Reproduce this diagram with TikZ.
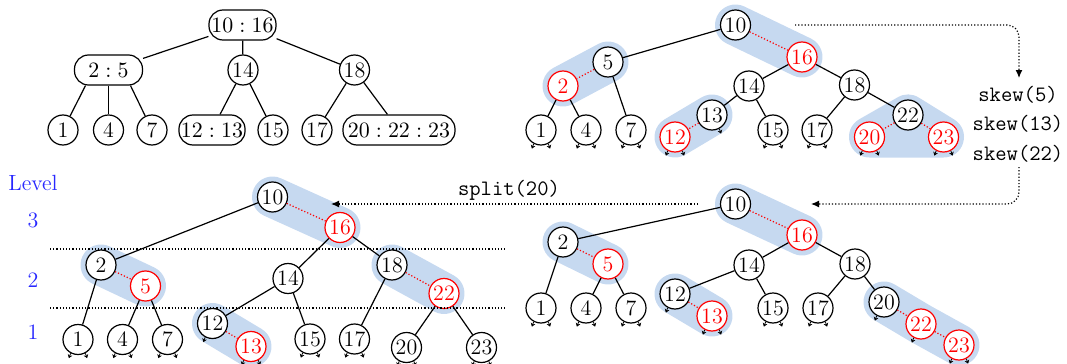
\documentclass[tikz,border=0pt]{standalone}
\usepackage{fontspec}
\usetikzlibrary{arrows.meta,backgrounds,calc}
\definecolor{hlblue}{RGB}{198,217,240}
\definecolor{lvlblue}{RGB}{40,40,255}
% null child pointers below a node
\newcommand\nilleft[1]{\draw[nilptr] (#1.-118) -- +(-110:2.6pt);}
\newcommand\nilright[1]{\draw[nilptr] (#1.-62) -- +(-70:2.6pt);}
\begin{document}
\begin{tikzpicture}[x=0.5pt,y=-0.5pt,
  every node/.style={font=\fontsize{11}{13}\selectfont},
  knode/.style={circle,draw,semithick,fill=white,minimum size=15pt,inner sep=0pt},
  rknode/.style={knode,draw=red,text=red},
  pill/.style={draw,semithick,fill=white,rounded corners=7pt,minimum height=15pt,inner xsep=1pt,inner ysep=0pt},
  link/.style={semithick},
  hlink/.style={red,semithick,densely dotted},
  band/.style={draw=hlblue,fill=hlblue,line width=20.5pt,line cap=round,line join=round},
  nilptr/.style={thin,-{Stealth[length=1.8pt,width=2.4pt]}},
  flow/.style={densely dotted,semithick,-{Latex[length=4pt,width=3.5pt]},rounded corners=6pt},
  lvlline/.style={densely dotted,semithick},
  lvl/.style={text=lvlblue},
  opstyle/.style={font=\fontsize{11}{14.75}\selectfont\ttfamily,align=center}
]
\useasboundingbox (0,0) rectangle (1067,364);

% ---------- 2-3-4 style tree ----------
\node[pill,minimum width=33.5pt] (a) at (242.5,25) {$10:16$};
\node[pill,minimum width=34pt] (a25) at (108.5,70) {$2:5$};
\node[knode] (a14) at (243,70) {14};
\node[knode] (a18) at (354.5,70) {18};
\node[knode] (a1) at (63,130) {1};
\node[knode] (a4) at (108.5,130) {4};
\node[knode] (a7) at (152,130) {7};
\node[pill,minimum width=33pt] (a1213) at (212,130) {$12:13$};
\node[knode] (a15) at (273,130) {15};
\node[knode] (a17) at (317,130) {17};
\node[pill,minimum width=56pt] (a2023) at (399,130) {$20:22:23$};
\draw[link] (a) -- (a25);
\draw[link] (a) -- (a14);
\draw[link] (a) -- (a18);
\draw[link] ($(a25.south)+(-23,0)$) -- (a1);
\draw[link] (a25) -- (a4);
\draw[link] ($(a25.south)+(22,0)$) -- (a7);
\draw[link] (a14) -- (a1213);
\draw[link] (a14) -- (a15);
\draw[link] (a18) -- (a17);
\draw[link] (a18) -- (a2023);

% ---------- AA-tree before skew ----------
\node[knode] (b10) at (735.5,25) {10};
\node[rknode] (b16) at (802,57) {16};
\node[knode] (b5) at (608,62) {5};
\node[rknode] (b2) at (563,86) {2};
\node[knode] (b14) at (749,86) {14};
\node[knode] (b18) at (854.5,85) {18};
\node[knode] (b13) at (712,115) {13};
\node[rknode] (b12) at (675,137) {12};
\node[knode] (b1) at (541,130) {1};
\node[knode] (b4) at (586,130) {4};
\node[knode] (b7) at (631,130) {7};
\node[knode] (b15) at (773,130) {15};
\node[knode] (b17) at (817,130) {17};
\node[knode] (b22) at (908,115) {22};
\node[rknode] (b20) at (869.5,137) {20};
\node[rknode] (b23) at (943.5,137) {23};
\foreach \u/\v in {b10/b5,b5/b7,b2/b1,b2/b4,b16/b14,b16/b18,b14/b13,b14/b15,b18/b17,b18/b22}
  \draw[link] (\u) -- (\v);
\foreach \u/\v in {b10/b16,b5/b2,b13/b12,b22/b20,b22/b23}
  \draw[hlink] (\u) -- (\v);
\foreach \n in {b1,b4,b7,b12,b15,b17,b20,b23} {\nilleft{\n}\nilright{\n}}
\nilright{b13}

% ---------- AA-tree after skew ----------
\node[knode] (d10) at (735.5,204) {10};
\node[rknode] (d16) at (802,235) {16};
\node[knode] (d2) at (563,242) {2};
\node[rknode] (d5) at (608,264) {5};
\node[knode] (d14) at (749,265) {14};
\node[knode] (d18) at (855,264) {18};
\node[knode] (d12) at (675,294) {12};
\node[rknode] (d13) at (712,316) {13};
\node[knode] (d1) at (541,308) {1};
\node[knode] (d4) at (586,308) {4};
\node[knode] (d7) at (631,308) {7};
\node[knode] (d15) at (773,308) {15};
\node[knode] (d17) at (818,308) {17};
\node[knode] (d20) at (884,302) {20};
\node[rknode] (d22) at (921,324) {22};
\node[rknode] (d23) at (959,345) {23};
\foreach \u/\v in {d10/d2,d2/d1,d5/d4,d5/d7,d16/d14,d16/d18,d14/d12,d14/d15,d18/d17,d18/d20}
  \draw[link] (\u) -- (\v);
\foreach \u/\v in {d10/d16,d2/d5,d12/d13,d20/d22,d22/d23}
  \draw[hlink] (\u) -- (\v);
\foreach \n in {d1,d4,d7,d13,d15,d17,d23} {\nilleft{\n}\nilright{\n}}
\foreach \n in {d12,d20,d22} {\nilleft{\n}}

% ---------- AA-tree after split ----------
\node[knode] (c10) at (272.5,197) {10};
\node[rknode] (c16) at (340,227.5) {16};
\node[knode] (c2) at (101,265) {2};
\node[rknode] (c5) at (145.5,286) {5};
\node[knode] (c14) at (288,278.5) {14};
\node[knode] (c18) at (392,265) {18};
\node[rknode] (c22) at (444,293.5) {22};
\node[knode] (c12) at (212.5,323.5) {12};
\node[rknode] (c13) at (251,346.5) {13};
\node[knode] (c1) at (78,339.5) {1};
\node[knode] (c4) at (122.5,339.5) {4};
\node[knode] (c7) at (167.5,339.5) {7};
\node[knode] (c15) at (310,339) {15};
\node[knode] (c17) at (354.5,339) {17};
\node[knode] (c20) at (406.5,347.5) {20};
\node[knode] (c23) at (481.5,347.5) {23};
\foreach \u/\v in {c10/c2,c2/c1,c5/c4,c5/c7,c16/c14,c16/c18,c14/c12,c14/c15,c18/c17,c22/c20,c22/c23}
  \draw[link] (\u) -- (\v);
\foreach \u/\v in {c10/c16,c2/c5,c12/c13,c18/c22}
  \draw[hlink] (\u) -- (\v);
\foreach \n in {c1,c4,c7,c13,c15,c17,c20,c23} {\nilleft{\n}\nilright{\n}}
\nilleft{c12}

% level separators and labels
\draw[lvlline] (50,249) -- (505,249);
\draw[lvlline] (50,308) -- (505,308);
\node[lvl] (lvlhead) at (33,183) {Level};
\node[lvl] (lvl3) at (33,220) {3};
\node[lvl] (lvl2) at (33,280) {2};
\node[lvl] (lvl1) at (33,332) {1};

% operations
\node[opstyle] (skew) at (1018,124) {skew(5)\\skew(13)\\skew(22)};
\coordinate (skewfrom) at (795,25);
\coordinate (skewin) at (1019,78);
\coordinate (skewout) at (1019,167);
\coordinate (afterskew) at (811,204);
\draw[flow] (skewfrom) -| (skewin);
\draw[flow] (skewout) |- (afterskew);
\coordinate (splitfrom) at (698,204);
\coordinate (splitto) at (331,204);
\draw[flow] (splitfrom) -- (splitto);
\node[opstyle] (splitlbl) at (509,190) {split(20)};

% highlighted horizontal-link groups
\begin{pgfonlayer}{background}
  \draw[band] (b10.center) -- (b16.center);
  \draw[band] (b5.center) -- (b2.center);
  \draw[band] (b13.center) -- (b12.center);
  \filldraw[band] (b20.center) -- (b22.center) -- (b23.center) -- cycle;
  \draw[band] (d10.center) -- (d16.center);
  \draw[band] (d2.center) -- (d5.center);
  \draw[band] (d12.center) -- (d13.center);
  \draw[band] (d20.center) -- (d22.center) -- (d23.center);
  \draw[band] (c10.center) -- (c16.center);
  \draw[band] (c2.center) -- (c5.center);
  \draw[band] (c12.center) -- (c13.center);
  \draw[band] (c18.center) -- (c22.center);
\end{pgfonlayer}
\end{tikzpicture}
\end{document}
